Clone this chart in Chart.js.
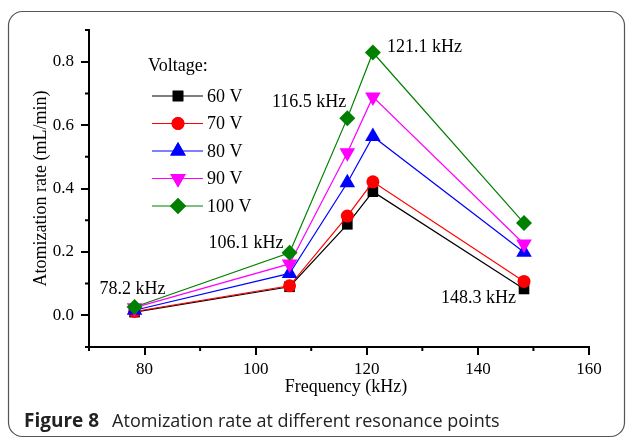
<!DOCTYPE html>
<html>
<head>
<meta charset="UTF-8">
<script src="https://cdn.jsdelivr.net/npm/chart.js"></script>
<style>
  html, body { margin:0; padding:0; background:#fff; }
  canvas { display:block; }
</style>
</head>
<body>
<canvas id="chart" width="627" height="438"></canvas>
<script>
// data
const frequencies = [78.2, 106.1, 116.5, 121.1, 148.3];
const voltages = ['60 V', '70 V', '80 V', '90 V', '100 V'];
const rate60  = [0.010, 0.090, 0.287, 0.390, 0.083];
const rate70  = [0.012, 0.093, 0.313, 0.421, 0.107];
const rate80  = [0.016, 0.132, 0.418, 0.564, 0.199];
const rate90  = [0.024, 0.162, 0.513, 0.689, 0.225];
const rate100 = [0.026, 0.197, 0.622, 0.829, 0.291];
const xTicks = [80, 100, 120, 140, 160];
const xMinor = [70, 90, 110, 130, 150];
const yTicks = [0.0, 0.2, 0.4, 0.6, 0.8];
const yMinor = [-0.1, 0.1, 0.3, 0.5, 0.7, 0.9];
const peakLabels = frequencies.map(f => f.toFixed(1) + ' kHz');

const series = [rate60, rate70, rate80, rate90, rate100];
const colors = ['#000000', '#ff0000', '#0000ff', '#ff00ff', '#008000'];
const shapes = [
  { pointStyle: 'rect', radius: 7.5, rotation: 0 },
  { pointStyle: 'circle', radius: 6.5, rotation: 0 },
  { pointStyle: 'triangle', radius: 9, rotation: 0 },
  { pointStyle: 'triangle', radius: 9, rotation: 180 },
  { pointStyle: 'rectRot', radius: 8, rotation: 0 }
];

// where each frequency label sits relative to one of the series' points
const labelPlace = [
  { s: 4, dx: -2, dy: -18, align: 'center' },
  { s: 4, dx: -6, dy: -10, align: 'right' },
  { s: 4, dx: -1, dy: -16, align: 'right' },
  { s: 4, dx: 14, dy: -5, align: 'left' },
  { s: 0, dx: -8, dy: 9, align: 'right' }
];

const serif = "'Liberation Serif', 'Times New Roman', serif";

const figurePlugin = {
  id: 'figure',
  beforeDraw(chart) {
    const ctx = chart.ctx;
    ctx.save();
    ctx.fillStyle = '#fff';
    ctx.fillRect(0, 0, chart.width, chart.height);
    ctx.strokeStyle = '#555';
    ctx.lineWidth = 1.2;
    ctx.beginPath();
    ctx.roundRect(8.5, 11.5, 616, 425, 14);
    ctx.stroke();
    ctx.restore();
  },
  afterDraw(chart) {
    const ctx = chart.ctx;
    const xs = chart.scales.x, ys = chart.scales.y;
    ctx.save();

    // minor ticks
    ctx.strokeStyle = '#000';
    ctx.lineWidth = 2;
    ctx.beginPath();
    xMinor.forEach(v => {
      const px = xs.getPixelForValue(v);
      ctx.moveTo(px, xs.top);
      ctx.lineTo(px, xs.top + 4);
    });
    yMinor.forEach(v => {
      const py = ys.getPixelForValue(v);
      ctx.moveTo(ys.right, py);
      ctx.lineTo(ys.right - 4, py);
    });
    ctx.stroke();

    // x axis title (sits a little right of centre in the original)
    ctx.fillStyle = '#000';
    ctx.font = '18px ' + serif;
    ctx.textBaseline = 'middle';
    ctx.textAlign = 'center';
    ctx.fillText('Frequency (kHz)', (xs.left + xs.right) / 2 + 7, 387);

    // frequency labels
    labelPlace.forEach((p, i) => {
      const px = xs.getPixelForValue(frequencies[i]);
      const py = ys.getPixelForValue(series[p.s][i]);
      ctx.textAlign = p.align;
      ctx.fillText(peakLabels[i], px + p.dx, py + p.dy);
    });

    // legend
    ctx.textAlign = 'left';
    ctx.fillText('Voltage:', 148, 66);
    voltages.forEach((v, i) => {
      const y = 96 + i * 27.5;
      ctx.strokeStyle = colors[i];
      ctx.lineWidth = 1.2;
      ctx.beginPath();
      ctx.moveTo(152, y);
      ctx.lineTo(203, y);
      ctx.stroke();
      ctx.fillStyle = colors[i];
      Chart.helpers.drawPoint(ctx, {
        pointStyle: shapes[i].pointStyle,
        radius: shapes[i].radius,
        rotation: shapes[i].rotation,
        borderWidth: 0
      }, 178, y);
      ctx.fill();
      ctx.fillStyle = '#000';
      ctx.fillText(v, 207, y + 1);
    });

    // caption
    ctx.textBaseline = 'alphabetic';
    ctx.fillStyle = '#222';
    ctx.font = "bold 19px 'Open Sans', sans-serif";
    ctx.fillText('Figure 8', 24, 427);
    const w = ctx.measureText('Figure 8').width;
    ctx.font = "18px 'Open Sans', sans-serif";
    ctx.fillText('Atomization rate at different resonance points', 24 + w + 13, 427);
    ctx.restore();
  }
};

new Chart(document.getElementById('chart'), {
  type: 'line',
  data: {
    datasets: series.map((vals, i) => ({
      label: voltages[i],
      data: vals.map((y, j) => ({ x: frequencies[j], y })),
      borderColor: colors[i],
      backgroundColor: colors[i],
      borderWidth: 1.2,
      pointStyle: shapes[i].pointStyle,
      pointRadius: shapes[i].radius,
      pointRotation: shapes[i].rotation,
      pointBorderWidth: 0,
      pointHoverRadius: shapes[i].radius,
      order: series.length - i
    }))
  },
  options: {
    responsive: false,
    devicePixelRatio: 1,
    animation: false,
    events: [],
    layout: { padding: { left: 20, top: 30, right: 38, bottom: 0 } },
    plugins: { legend: { display: false }, tooltip: { enabled: false } },
    scales: {
      x: {
        type: 'linear',
        min: 70, max: 160,
        afterBuildTicks: s => { s.ticks = xTicks.map(v => ({ value: v })); },
        afterFit: s => { s.height = 91; },
        grid: { drawOnChartArea: false, drawTicks: true, tickLength: 8, lineWidth: 2, color: '#000' },
        border: { display: true, width: 2, color: '#000' },
        ticks: { color: '#000', font: { family: serif, size: 17 }, padding: 4, maxRotation: 0 },
        title: { display: false }
      },
      y: {
        min: -0.1, max: 0.9,
        afterBuildTicks: s => { s.ticks = yTicks.map(v => ({ value: v })); },
        afterFit: s => { s.width = 69; },
        grid: { drawOnChartArea: false, drawTicks: true, tickLength: 8, lineWidth: 2, color: '#000' },
        border: { display: true, width: 2, color: '#000' },
        ticks: { color: '#000', font: { family: serif, size: 17 }, padding: 7,
                 callback: v => Number(v).toFixed(1) },
        title: { display: true, text: 'Atomization rate (mL/min)', color: '#000',
                 font: { family: serif, size: 18 }, padding: { top: 10, bottom: 0 } }
      }
    }
  },
  plugins: [figurePlugin]
});
</script>
</body>
</html>
